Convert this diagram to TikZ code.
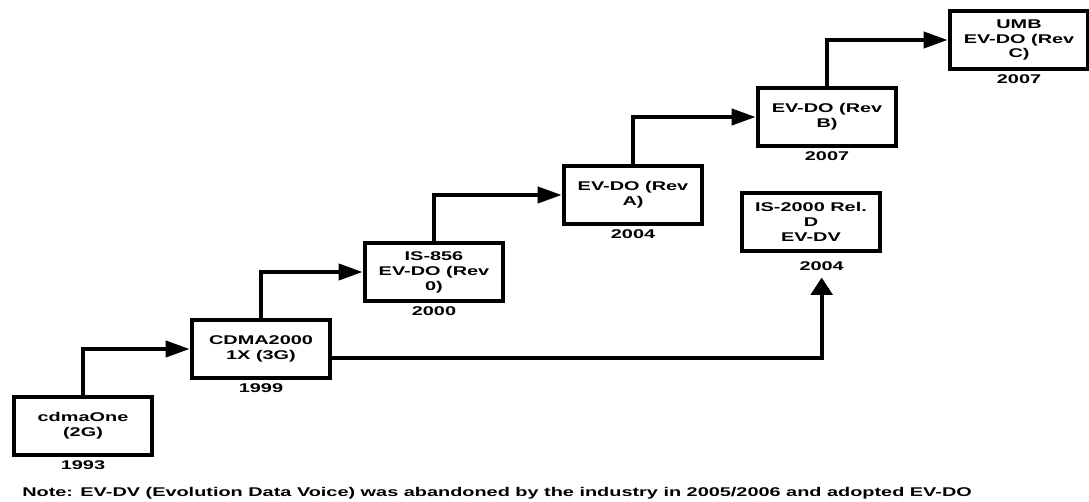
\documentclass[tikz,border=0pt]{standalone}
\usepackage{fontspec}
\newfontfamily\diagfont[FakeStretch=1.57]{Liberation Sans}
\usetikzlibrary{arrows.meta,positioning}

\begin{document}
\begin{tikzpicture}[x=0.75pt,y=-0.75pt,
  font=\diagfont\bfseries\fontsize{9.5}{11.2}\selectfont,
  stage/.style={draw,line width=3pt,fill=white,align=center,
    minimum width=104pt,minimum height=44pt,inner sep=2pt},
  year/.style={inner sep=0pt},
  link/.style={line width=3pt,-{Triangle[length=18pt,width=12pt]}},
  uplink/.style={line width=3pt,-{Triangle[length=13pt,width=16pt]}}]
  \useasboundingbox (0,0) rectangle (1089,502);

  \node[stage] (one) at (83,426) {cdmaOne\\(2G)};
  \node[stage] (cdma) at (261,349) {CDMA2000\\1X (3G)};
  \node[stage] (is856) at (434,272) {IS-856\\EV-DO (Rev\\0)};
  \node[stage] (revA) at (633,195) {EV-DO (Rev\\A)};
  \node[stage] (revB) at (827,117) {EV-DO (Rev\\B)};
  \node[stage] (umb) at (1019,40) {UMB\\EV-DO (Rev\\C)};
  \node[stage] (evdv) at (811,222) {IS-2000 Rel.\\D\\EV-DV};

  \node[year,below=2.5pt of one] (y1993) {1993};
  \node[year,below=2.5pt of cdma] (y1999) {1999};
  \node[year,below=2.5pt of is856] (y2000) {2000};
  \node[year,below=2.5pt of revA] (y2004a) {2004};
  \node[year,below=2.5pt of revB] (y2007a) {2007};
  \node[year,below=2.5pt of umb] (y2007b) {2007};
  \node[year,below=6pt of evdv,xshift=8pt] (y2004b) {2004};

  \draw[link] (one.north) |- (cdma.west);
  \draw[link] (cdma.north) |- (is856.west);
  \draw[link] (is856.north) |- (revA.west);
  \draw[link] (revA.north) |- (revB.west);
  \draw[link] (revB.north) |- (umb.west);
  \draw[uplink] ([yshift=-7pt]cdma.east) -| ([yshift=-5pt]y2004b.south);

  \node[anchor=west,inner sep=0pt] (note) at (22,493)
    {Note: EV-DV (Evolution Data Voice) was abandoned by the industry in 2005/2006 and adopted EV-DO};
\end{tikzpicture}
\end{document}
